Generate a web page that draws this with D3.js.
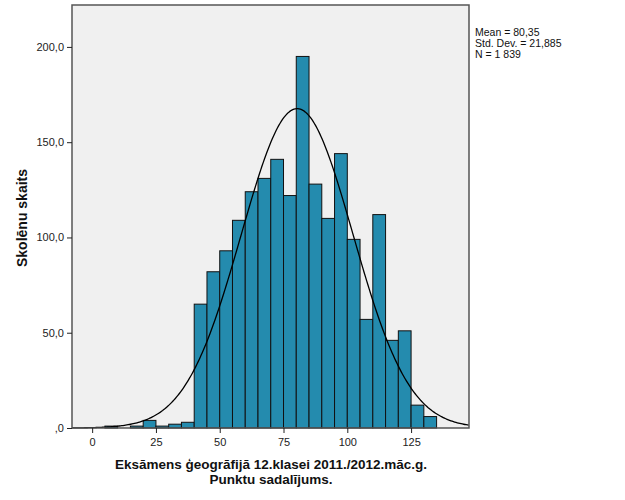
<!DOCTYPE html>
<html>
<head>
<meta charset="utf-8">
<script src="https://cdn.jsdelivr.net/npm/d3@7"></script>
<style>
  body { margin: 0; background: #fff; }
  text { font-family: "Liberation Sans", Arial, sans-serif; }
</style>
</head>
<body>
<div id="chart-container"></div>
<script>
// Histogram bins (lower edge, width 5) and counts
const binStarts = [5, 10, 15, 20, 25, 30, 35, 40, 45, 50, 55, 60, 65, 70, 75, 80, 85, 90, 95, 100, 105, 110, 115, 120, 125, 130];
const counts = [1, 0, 1, 4, 1, 2, 3, 65, 82, 93, 109, 124, 131, 141, 122, 195, 128, 110, 144, 99, 57, 112, 46, 51, 12, 6];
const binWidth = 5;

const xTicks = [0, 25, 50, 75, 100, 125];
const yTicks = [0, 50, 100, 150, 200];
const yTickLabels = [",0", "50,0", "100,0", "150,0", "200,0"];

const statMean = 80.35;
const statSd = 21.885;
const statN = 1839;
const statLines = ["Mean = 80,35", "Std. Dev. = 21,885", "N = 1 839"];

const margin = { top: 5, right: 156, bottom: 72, left: 72 };
const width = 625 - margin.left - margin.right;
const height = 500 - margin.top - margin.bottom;

const svg = d3.select('#chart-container')
    .append('svg')
    .attr('width', 625)
    .attr('height', 500);

const g = svg.append('g')
    .attr('transform', `translate(${margin.left},${margin.top})`);

const xScale = d3.scaleLinear()
    .domain([-7.9, 147.7])
    .range([0, width]);

const yScale = d3.scaleLinear()
    .domain([0, 222])
    .range([height, 0]);

// plot background
g.append('rect')
    .attr('width', width)
    .attr('height', height)
    .attr('fill', '#f0f0f0');

// bars
g.selectAll('.bar')
    .data(binStarts.map((s, i) => ({ s, c: counts[i] })).filter(d => d.c > 0))
    .enter()
    .append('rect')
    .attr('class', 'bar')
    .attr('x', d => xScale(d.s))
    .attr('y', d => yScale(d.c))
    .attr('width', d => xScale(d.s + binWidth) - xScale(d.s))
    .attr('height', d => height - yScale(d.c))
    .attr('fill', '#248bae')
    .attr('stroke', '#111')
    .attr('stroke-width', 1);

// fitted normal curve from the stated statistics
const density = x => statN * binWidth / (statSd * Math.sqrt(2 * Math.PI)) *
    Math.exp(-0.5 * Math.pow((x - statMean) / statSd, 2));
const curveX = d3.range(-7.9, 147.8, 0.5);
g.append('path')
    .datum(curveX)
    .attr('fill', 'none')
    .attr('stroke', '#000')
    .attr('stroke-width', 1.3)
    .attr('d', d3.line().x(d => xScale(d)).y(d => yScale(density(d))));

// frame
g.append('rect')
    .attr('width', width)
    .attr('height', height)
    .attr('fill', 'none')
    .attr('stroke', '#555')
    .attr('stroke-width', 1.5);

// x-axis
const xAxis = g.append('g')
    .attr('transform', `translate(0, ${height})`)
    .call(d3.axisBottom(xScale).tickValues(xTicks).tickSize(5).tickSizeOuter(0));
xAxis.select('.domain').remove();
xAxis.selectAll('line').attr('stroke', '#222');
xAxis.selectAll('text')
    .attr('font-size', 11)
    .attr('fill', '#222')
    .attr('dy', '0.95em');

// y-axis
const yAxis = g.append('g')
    .call(d3.axisLeft(yScale).tickValues(yTicks).tickSize(5).tickSizeOuter(0)
        .tickFormat((d, i) => yTickLabels[i]));
yAxis.select('.domain').remove();
yAxis.selectAll('line').attr('stroke', '#222');
yAxis.selectAll('text')
    .attr('font-size', 11)
    .attr('fill', '#222');

// stats text
svg.append('g')
    .selectAll('text')
    .data(statLines)
    .enter()
    .append('text')
    .attr('x', 475)
    .attr('y', (d, i) => 36 + i * 11)
    .attr('font-size', 10.5)
    .attr('fill', '#111')
    .text(d => d);

// x-axis label
const xLabel = svg.append('text')
    .attr('text-anchor', 'middle')
    .attr('font-size', 13.5)
    .attr('font-weight', 'bold')
    .attr('fill', '#111');
xLabel.append('tspan').attr('x', 271).attr('y', 469).text('Eksāmens ģeogrāfijā 12.klasei 2011./2012.māc.g.');
xLabel.append('tspan').attr('x', 271).attr('y', 484).text('Punktu sadalījums.');

// y-axis label
svg.append('text')
    .attr('transform', 'rotate(-90)')
    .attr('x', -218)
    .attr('y', 27)
    .attr('text-anchor', 'middle')
    .attr('font-size', 14)
    .attr('font-weight', 'bold')
    .attr('fill', '#111')
    .text('Skolēnu skaits');
</script>
</body>
</html>
